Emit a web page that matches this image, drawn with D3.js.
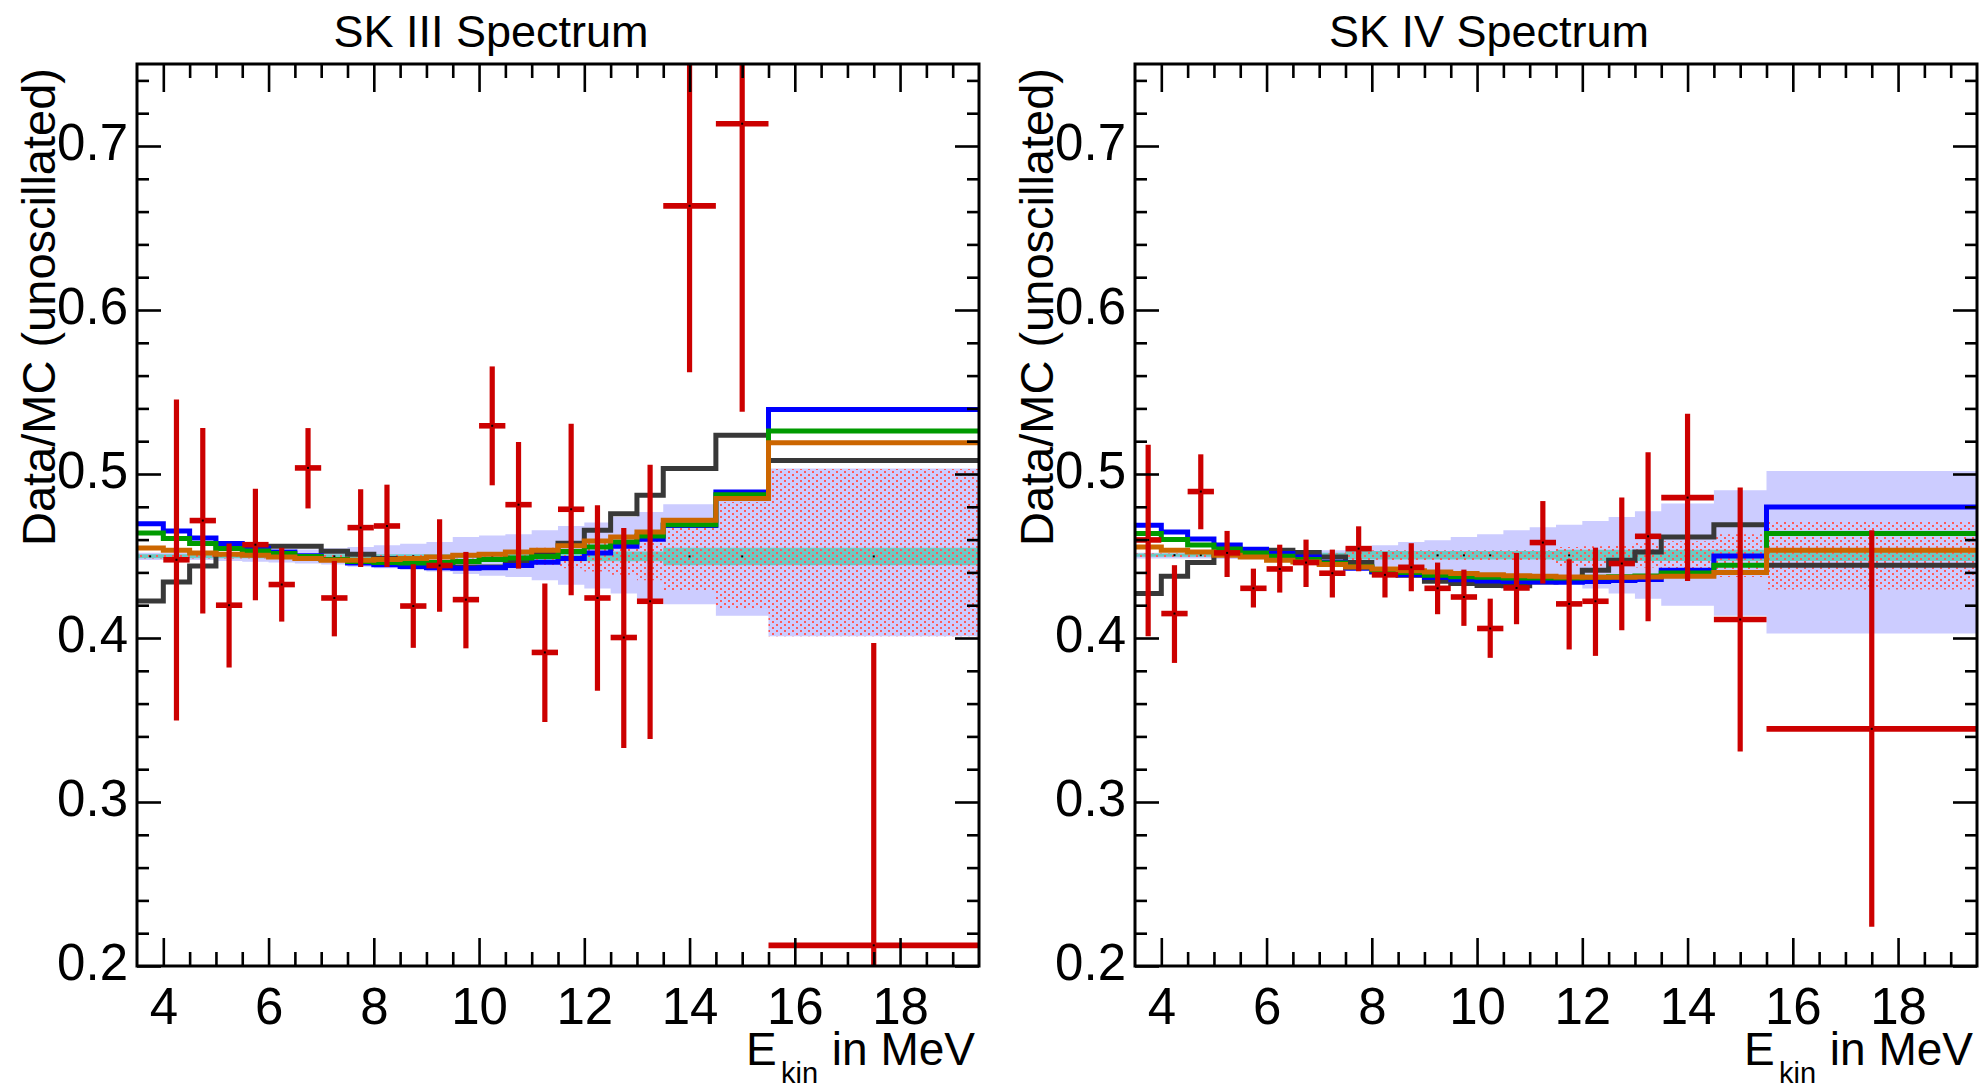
<!DOCTYPE html>
<html>
<head>
<meta charset="utf-8">
<script src="https://cdn.jsdelivr.net/npm/d3@7"></script>
<style>
  body { margin: 0; background: #fff; }
  text { font-family: "Liberation Sans", Arial, Helvetica, sans-serif; }
</style>
</head>
<body>
<svg id="chart" width="1987" height="1090"></svg>
<script>
// bin edges in MeV (0.5 MeV bins up to 13.5, then 1 MeV, then one wide bin)
const binEdges = [3.5, 4.0, 4.5, 5.0, 5.5, 6.0, 6.5, 7.0, 7.5, 8.0, 8.5, 9.0, 9.5, 10.0,
  10.5, 11.0, 11.5, 12.0, 12.5, 13.0, 13.5, 14.5, 15.5, 19.5];

const xTickValues = [4, 6, 8, 10, 12, 14, 16, 18];
const xTickLabels = ["4", "6", "8", "10", "12", "14", "16", "18"];
const yTickValues = [0.2, 0.3, 0.4, 0.5, 0.6, 0.7];
const yTickLabels = ["0.2", "0.3", "0.4", "0.5", "0.6", "0.7"];

// ---- SK III ----
const sk3Blue = [0.4697, 0.4653, 0.4610, 0.4576, 0.4548, 0.4525, 0.4502, 0.4478, 0.4458, 0.4446, 0.4436, 0.4428,
  0.4425, 0.4428, 0.4442, 0.4462, 0.4484, 0.4519, 0.4559, 0.4602, 0.4686, 0.4890, 0.5394];
const sk3Green = [0.4641, 0.4606, 0.4576, 0.4545, 0.4531, 0.4515, 0.4497, 0.4478, 0.4466, 0.4460, 0.4458, 0.4460,
  0.4466, 0.4478, 0.4488, 0.4497, 0.4527, 0.4555, 0.4586, 0.4622, 0.4691, 0.4874, 0.5262];
const sk3Orange = [0.4549, 0.4535, 0.4519, 0.4511, 0.4505, 0.4494, 0.4484, 0.4474, 0.4474, 0.4478, 0.4484, 0.4494,
  0.4505, 0.4511, 0.4525, 0.4535, 0.4563, 0.4592, 0.4616, 0.4647, 0.4718, 0.4850, 0.5191];
const sk3Gray = [0.4226, 0.4342, 0.4439, 0.4545, 0.4545, 0.4559, 0.4559, 0.4529, 0.4511, 0.4484, 0.4454, 0.4448,
  0.4433, 0.4433, 0.4464, 0.4511, 0.4578, 0.4657, 0.4758, 0.4870, 0.5033, 0.5236, 0.5083];

const sk3TotalLo = [0.4475, 0.4475, 0.4475, 0.4470, 0.4465, 0.4460, 0.4455, 0.4448, 0.4435, 0.4425, 0.4415, 0.4405,
  0.4390, 0.4380, 0.4372, 0.4352, 0.4325, 0.4302, 0.4271, 0.4240, 0.4206, 0.4135, 0.4011];
const sk3TotalHi = [0.4520, 0.4520, 0.4520, 0.4525, 0.4530, 0.4535, 0.4540, 0.4548, 0.4555, 0.4565, 0.4575, 0.4586,
  0.4616, 0.4625, 0.4633, 0.4657, 0.4683, 0.4704, 0.4740, 0.4768, 0.4815, 0.4870, 0.5033];
const sk3CorrLo = [0.4484, 0.4484, 0.4484, 0.4484, 0.4484, 0.4484, 0.4484, 0.4484, 0.4484, 0.4484, 0.4484, 0.4484,
  0.4484, 0.4484, 0.4460, 0.4445, 0.4425, 0.4405, 0.4385, 0.4352, 0.4287, 0.4180, 0.4010];
const sk3CorrHi = [0.4512, 0.4512, 0.4512, 0.4512, 0.4512, 0.4512, 0.4512, 0.4512, 0.4512, 0.4512, 0.4512, 0.4512,
  0.4512, 0.4512, 0.4535, 0.4550, 0.4570, 0.4590, 0.4610, 0.4645, 0.4705, 0.4829, 0.5030];
const sk3FlatLo = [0.4486, 0.4486, 0.4486, 0.4486, 0.4486, 0.4486, 0.4486, 0.4486, 0.4486, 0.4486, 0.4486, 0.4486,
  0.4486, 0.4486, 0.4468, 0.4468, 0.4468, 0.4468, 0.4468, 0.4468, 0.4444, 0.4444, 0.4444];
const sk3FlatHi = [0.4510, 0.4510, 0.4510, 0.4510, 0.4510, 0.4510, 0.4510, 0.4510, 0.4510, 0.4510, 0.4510, 0.4510,
  0.4510, 0.4510, 0.4528, 0.4528, 0.4528, 0.4528, 0.4528, 0.4528, 0.4551, 0.4551, 0.4551];

const sk3Data = [null, 0.4477, 0.4716, 0.4200, 0.4569, 0.4326, 0.5037, 0.4244, 0.4673, 0.4683, 0.4195, 0.4442,
  0.4234, 0.5294, 0.4813, 0.3912, 0.4785, 0.4244, 0.4003, 0.4224, 0.6635, 0.7136, 0.2126];
const sk3DataLo = [null, 0.3497, 0.4150, 0.3820, 0.4230, 0.4100, 0.4790, 0.4010, 0.4433, 0.4433, 0.3940, 0.4160,
  0.3937, 0.4931, 0.4423, 0.3488, 0.4261, 0.3678, 0.3329, 0.3384, 0.5620, 0.5380, 0.0283];
const sk3DataHi = [null, 0.5455, 0.5280, 0.4576, 0.4910, 0.4550, 0.5280, 0.4470, 0.4907, 0.4935, 0.4450, 0.4724,
  0.4525, 0.5656, 0.5195, 0.4332, 0.5307, 0.4809, 0.4671, 0.5057, 0.7650, 0.8890, 0.3969];

// ---- SK IV ----
const sk4Blue = [0.4687, 0.4647, 0.4604, 0.4567, 0.4541, 0.4515, 0.4494, 0.4462, 0.4425, 0.4405, 0.4385, 0.4369,
  0.4355, 0.4348, 0.4344, 0.4342, 0.4340, 0.4344, 0.4350, 0.4356, 0.4413, 0.4500, 0.4799];
const sk4Green = [0.4637, 0.4600, 0.4567, 0.4543, 0.4519, 0.4498, 0.4478, 0.4458, 0.4435, 0.4415, 0.4400, 0.4383,
  0.4374, 0.4370, 0.4366, 0.4366, 0.4366, 0.4370, 0.4374, 0.4378, 0.4397, 0.4444, 0.4637];
const sk4Orange = [0.4555, 0.4535, 0.4525, 0.4505, 0.4494, 0.4474, 0.4464, 0.4448, 0.4433, 0.4420, 0.4410, 0.4403,
  0.4393, 0.4385, 0.4380, 0.4376, 0.4372, 0.4370, 0.4370, 0.4372, 0.4376, 0.4399, 0.4535];
const sk4Gray = [0.4271, 0.4377, 0.4460, 0.4520, 0.4535, 0.4535, 0.4521, 0.4494, 0.4460, 0.4403, 0.4383, 0.4346,
  0.4332, 0.4320, 0.4318, 0.4342, 0.4358, 0.4413, 0.4474, 0.4525, 0.4616, 0.4691, 0.4444];

const sk4TotalLo = [0.4485, 0.4485, 0.4485, 0.4482, 0.4480, 0.4476, 0.4472, 0.4465, 0.4445, 0.4435, 0.4415, 0.4405,
  0.4385, 0.4370, 0.4345, 0.4335, 0.4332, 0.4302, 0.4271, 0.4240, 0.4196, 0.4135, 0.4027];
const sk4TotalHi = [0.4520, 0.4520, 0.4520, 0.4522, 0.4525, 0.4528, 0.4530, 0.4535, 0.4555, 0.4565, 0.4586, 0.4596,
  0.4616, 0.4633, 0.4657, 0.4675, 0.4690, 0.4714, 0.4738, 0.4773, 0.4820, 0.4901, 0.5018];
const sk4CorrLo = [0.4490, 0.4490, 0.4490, 0.4490, 0.4490, 0.4490, 0.4490, 0.4490, 0.4470, 0.4470, 0.4470, 0.4470,
  0.4470, 0.4470, 0.4470, 0.4470, 0.4433, 0.4435, 0.4440, 0.4430, 0.4415, 0.4372, 0.4295];
const sk4CorrHi = [0.4515, 0.4515, 0.4515, 0.4515, 0.4515, 0.4515, 0.4515, 0.4515, 0.4535, 0.4535, 0.4535, 0.4535,
  0.4535, 0.4535, 0.4535, 0.4535, 0.4555, 0.4560, 0.4565, 0.4580, 0.4590, 0.4633, 0.4709];
const sk4FlatLo = [0.4495, 0.4495, 0.4495, 0.4495, 0.4495, 0.4490, 0.4490, 0.4490, 0.4478, 0.4478, 0.4478, 0.4478,
  0.4478, 0.4478, 0.4478, 0.4478, 0.4470, 0.4470, 0.4470, 0.4470, 0.4470, 0.4470, 0.4470];
const sk4FlatHi = [0.4515, 0.4515, 0.4515, 0.4515, 0.4515, 0.4520, 0.4520, 0.4520, 0.4530, 0.4530, 0.4530, 0.4530,
  0.4530, 0.4530, 0.4530, 0.4530, 0.4538, 0.4538, 0.4538, 0.4538, 0.4538, 0.4538, 0.4538];

const sk4Data = [0.4598, 0.4149, 0.4893, 0.4519, 0.4303, 0.4421, 0.4460, 0.4395, 0.4545, 0.4385, 0.4431, 0.4303,
  0.4250, 0.4058, 0.4305, 0.4582, 0.4208, 0.4224, 0.4454, 0.4620, 0.4856, 0.4113, 0.3446];
const sk4DataLo = [0.4011, 0.3848, 0.4663, 0.4372, 0.4186, 0.4277, 0.4311, 0.4247, 0.4407, 0.4247, 0.4285, 0.4145,
  0.4074, 0.3879, 0.4084, 0.4332, 0.3930, 0.3891, 0.4048, 0.4102, 0.4348, 0.3308, 0.2240];
const sk4DataHi = [0.5179, 0.4444, 0.5120, 0.4653, 0.4423, 0.4569, 0.4600, 0.4539, 0.4681, 0.4525, 0.4578, 0.4460,
  0.4417, 0.4240, 0.4519, 0.4835, 0.4480, 0.4551, 0.4856, 0.5132, 0.5368, 0.4917, 0.4657];

const panels = [
  { title: "SK III Spectrum", offset: 0,
    lines: [sk3Gray, sk3Blue, sk3Green, sk3Orange],
    total: [sk3TotalLo, sk3TotalHi], corr: [sk3CorrLo, sk3CorrHi], flat: [sk3FlatLo, sk3FlatHi],
    data: [sk3Data, sk3DataLo, sk3DataHi] },
  { title: "SK IV Spectrum", offset: 998,
    lines: [sk4Gray, sk4Blue, sk4Green, sk4Orange],
    total: [sk4TotalLo, sk4TotalHi], corr: [sk4CorrLo, sk4CorrHi], flat: [sk4FlatLo, sk4FlatHi],
    data: [sk4Data, sk4DataLo, sk4DataHi] }
];

const lineColors = ["#383838", "#0000ff", "#009a00", "#cc6600"];
const font = "'Liberation Sans', Arial, Helvetica, sans-serif";

const svg = d3.select("#chart");
svg.append("rect").attr("width", 1987).attr("height", 1090).attr("fill", "#fff");

const defs = svg.append("defs");
const pat = defs.append("pattern")
  .attr("id", "dots")
  .attr("patternUnits", "userSpaceOnUse")
  .attr("width", 8)
  .attr("height", 6);
pat.append("rect").attr("x", 0).attr("y", 0).attr("width", 2).attr("height", 2).attr("fill", "#ff5a5a");
pat.append("rect").attr("x", 4).attr("y", 3).attr("width", 2).attr("height", 2).attr("fill", "#ff5a5a");

// histogram points with an extra point closing the last bin
const stepRows = (lo, hi) => {
  const rows = lo.map((v, k) => ({ e: binEdges[k], lo: v, hi: hi ? hi[k] : v }));
  const last = rows[rows.length - 1];
  rows.push({ e: binEdges[lo.length], lo: last.lo, hi: last.hi });
  return rows;
};

panels.forEach((p, i) => {
  const x0 = 137 + p.offset, x1 = 979 + p.offset, y0 = 64, y1 = 966;

  const x = d3.scaleLinear().domain([3.5, 19.5]).range([x0, x1]);
  const y = d3.scaleLinear().domain([0.2, 0.75]).range([y1, y0]);

  defs.append("clipPath").attr("id", "clip" + i)
    .append("rect").attr("x", x0).attr("y", y0).attr("width", x1 - x0).attr("height", y1 - y0);

  const plot = svg.append("g").attr("clip-path", `url(#clip${i})`);

  const area = d3.area()
    .curve(d3.curveStepAfter)
    .x((d) => x(d.e))
    .y0((d) => y(d.lo))
    .y1((d) => y(d.hi));

  plot.append("path").attr("d", area(stepRows(p.total[0], p.total[1]))).attr("fill", "#ccccff");
  plot.append("path").attr("d", area(stepRows(p.flat[0], p.flat[1]))).attr("fill", "#6cc9c3");
  plot.append("path").attr("d", area(stepRows(p.corr[0], p.corr[1]))).attr("fill", "url(#dots)");

  // small markers of the flat reference histogram
  plot.selectAll(".flatdot")
    .data(p.flat[0].map((lo, k) => ({ c: (binEdges[k] + binEdges[k + 1]) / 2, v: (lo + p.flat[1][k]) / 2 })))
    .enter()
    .append("rect")
    .attr("x", (d) => x(d.c) - 1)
    .attr("y", (d) => y(d.v) - 1)
    .attr("width", 2)
    .attr("height", 2)
    .attr("fill", "#000");

  const line = d3.line()
    .curve(d3.curveStepAfter)
    .x((d) => x(d.e))
    .y((d) => y(d.lo));

  p.lines.forEach((vals, k) => {
    plot.append("path")
      .attr("d", line(stepRows(vals)))
      .attr("fill", "none")
      .attr("stroke", lineColors[k])
      .attr("stroke-width", 5);
  });

  const pts = p.data[0]
    .map((v, k) => ({ v: v, lo: p.data[1][k], hi: p.data[2][k], a: binEdges[k], b: binEdges[k + 1] }))
    .filter((d) => d.v !== null);

  const pg = plot.append("g").attr("stroke", "#cc0000").attr("stroke-width", 5.2);
  pg.selectAll(".ev").data(pts).enter().append("line")
    .attr("x1", (d) => x((d.a + d.b) / 2)).attr("x2", (d) => x((d.a + d.b) / 2))
    .attr("y1", (d) => y(d.lo)).attr("y2", (d) => y(d.hi));
  pg.selectAll(".eh").data(pts).enter().append("line")
    .attr("x1", (d) => x(d.a)).attr("x2", (d) => x(d.b))
    .attr("y1", (d) => y(d.v)).attr("y2", (d) => y(d.v))
    .attr("stroke-width", 5.6);
  plot.selectAll(".pdot").data(pts).enter().append("rect")
    .attr("x", (d) => x((d.a + d.b) / 2) - 1)
    .attr("y", (d) => y(d.v) - 1)
    .attr("width", 2).attr("height", 2)
    .attr("fill", "#000");

  // axes (ROOT style: ticks inside, mirrored on the opposite side)
  const styleAxis = (sel) => {
    sel.select(".domain").remove();
    sel.selectAll("line").attr("stroke", "#000").attr("stroke-width", 2.6);
    sel.attr("font-size", 51).attr("font-family", font);
    sel.selectAll("text").attr("fill", "#000");
  };

  const xMinor = d3.range(4, 19.5, 0.5).filter((v) => v % 2 !== 0);
  const yMinor = d3.range(0.22, 0.75, 0.02).filter((v) => Math.abs(v * 10 - Math.round(v * 10)) > 0.01);

  svg.append("g").attr("transform", `translate(0,${y1})`)
    .call(d3.axisBottom(x).tickValues(xTickValues).tickSize(-28).tickPadding(22)
      .tickFormat((d, k) => xTickLabels[k]))
    .call(styleAxis);
  svg.append("g").attr("transform", `translate(0,${y1})`)
    .call(d3.axisBottom(x).tickValues(xMinor).tickSize(-14).tickFormat(""))
    .call(styleAxis);
  svg.append("g").attr("transform", `translate(0,${y0})`)
    .call(d3.axisTop(x).tickValues(xTickValues).tickSize(-28).tickFormat(""))
    .call(styleAxis);
  svg.append("g").attr("transform", `translate(0,${y0})`)
    .call(d3.axisTop(x).tickValues(xMinor).tickSize(-14).tickFormat(""))
    .call(styleAxis);

  svg.append("g").attr("transform", `translate(${x0},0)`)
    .call(d3.axisLeft(y).tickValues(yTickValues).tickSize(-24).tickPadding(9)
      .tickFormat((d, k) => yTickLabels[k]))
    .call(styleAxis)
    .selectAll("text").attr("dy", "0.26em");
  svg.append("g").attr("transform", `translate(${x0},0)`)
    .call(d3.axisLeft(y).tickValues(yMinor).tickSize(-12).tickFormat(""))
    .call(styleAxis);
  svg.append("g").attr("transform", `translate(${x1},0)`)
    .call(d3.axisRight(y).tickValues(yTickValues).tickSize(-24).tickFormat(""))
    .call(styleAxis);
  svg.append("g").attr("transform", `translate(${x1},0)`)
    .call(d3.axisRight(y).tickValues(yMinor).tickSize(-12).tickFormat(""))
    .call(styleAxis);

  svg.append("rect")
    .attr("x", x0).attr("y", y0)
    .attr("width", x1 - x0).attr("height", y1 - y0)
    .attr("fill", "none").attr("stroke", "#000").attr("stroke-width", 3);

  // titles
  svg.append("text")
    .attr("x", 491 + p.offset).attr("y", 47)
    .attr("text-anchor", "middle")
    .attr("font-size", 45)
    .text(p.title);

  svg.append("text")
    .attr("transform", `translate(${55 + p.offset},68) rotate(-90)`)
    .attr("text-anchor", "end")
    .attr("font-size", 47)
    .text("Data/MC (unoscillated)");

  svg.append("text").attr("x", x1 - 233).attr("y", 1065).attr("font-size", 46).text("E");
  svg.append("text").attr("x", x1 - 198).attr("y", 1083).attr("font-size", 29).text("kin");
  svg.append("text").attr("x", x1 - 4).attr("y", 1065).attr("text-anchor", "end")
    .attr("font-size", 46).text("in MeV");
});
</script>
</body>
</html>
